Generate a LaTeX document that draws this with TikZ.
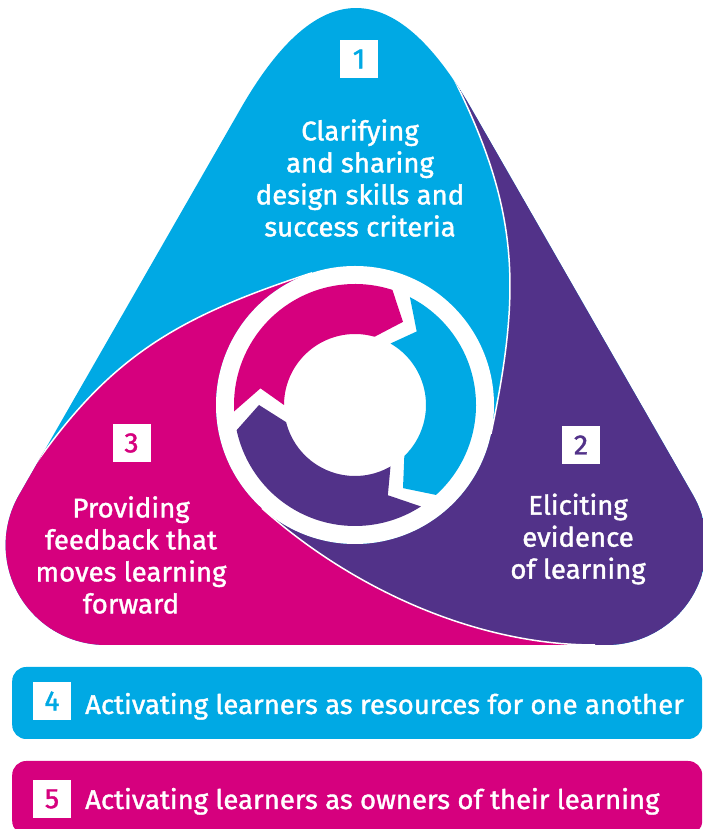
\documentclass[tikz,border=0pt]{standalone}
\usepackage{fontspec}
\setmainfont{Fira Sans}[FakeStretch=1.02, FakeBold=1.4]
\usetikzlibrary{calc}
\definecolor{lblue}{RGB}{0,169,228}
\definecolor{lpurple}{RGB}{82,50,137}
\definecolor{lpink}{RGB}{214,0,126}
\begin{document}
\begin{tikzpicture}[x=1pt,y=1pt,
  numbox/.style={fill=white, minimum size=38pt, inner sep=0pt, font=\fontsize{28}{28}\selectfont},
  lobetext/.style={text=white, align=center, font=\fontsize{27}{32}\selectfont, inner sep=0pt},
  bartext/.style={text=white, anchor=base west, font=\fontsize{27}{30}\selectfont, inner sep=0pt},
  barbox/.style={rounded corners=14pt, minimum width=690pt, anchor=west, inner sep=0pt},
  sep/.style={draw=white, line width=1.5pt}]
\useasboundingbox (0,0) rectangle (702,829);
\coordinate (O) at (355,424);
% outer rounded triangle
\fill[lblue] (241,721) .. controls (317.7,854.3) and (394.3,854.3) .. (471,721) -- (693,334)
  arc[start angle=30,end angle=-90,radius=100] -- (105.6,184)
  arc[start angle=-90,end angle=-210,radius=100] -- cycle;
\begin{scope}
\clip (241,721) .. controls (317.7,854.3) and (394.3,854.3) .. (471,721) -- (693,334)
  arc[start angle=30,end angle=-90,radius=100] -- (105.6,184)
  arc[start angle=-90,end angle=-210,radius=100] -- cycle;
% purple lobe
\fill[lpurple] (452,754) .. controls (519,621) and (522,542) .. ($(O)+(-12:139)$)
  arc[start angle=-12,end angle=-132,radius=139]
  .. controls (351,241) and (475,184) .. (595,184)
  -- (595,150) -- (800,150) -- (800,800) -- (470,800) -- cycle;
% pink lobe
\fill[lpink] (20.7,343) .. controls (102.4,467.5) and (169.3,509.6) .. ($(O)+(108:139)$)
  arc[start angle=108,end angle=228,radius=139]
  .. controls (351,241) and (475,184) .. (595,184)
  -- (595,100) -- (-100,100) -- (-100,330) -- cycle;
% separators
\draw[sep] (452,754) .. controls (519,621) and (522,542) .. ($(O)+(-12:139)$);
\draw[sep] ($(O)+(-132:139)$) .. controls (351,241) and (475,184) .. (595,184);
\draw[sep] (20.7,343) .. controls (102.4,467.5) and (169.3,509.6) .. ($(O)+(108:139)$);
\end{scope}
% central ring
\fill[white] (O) circle[radius=139];
\begin{scope}[shift={(O)}]
\foreach \col/\rot in {lpink/0, lblue/-120, lpurple/-240} {
  \fill[\col, rotate=\rot] (183:121) arc[start angle=183,end angle=72,radius=121]
    -- (60:96) -- (74:71) arc[start angle=74,end angle=180,radius=71] -- (170:96) -- cycle;
}
\end{scope}
% lobe labels
\node[numbox, text=lblue] (n1) at (359,770) {1};
\node[lobetext] (t1) at (360,651) {Clarifying\\and sharing\\design skills and\\success criteria};
\node[numbox, text=lpurple] (n2) at (581,384) {2};
\node[lobetext] (t2) at (578,290) {Eliciting\\evidence\\of learning};
\node[numbox, text=lpink] (n3) at (131.5,386) {3};
\node[lobetext] (t3) at (131,274) {Providing\\feedback that\\moves learning\\forward};
% bars
\node[barbox, fill=lblue, minimum height=72pt] (b4) at (12,126) {};
\node[numbox, text=lblue] (n4) at (52,128) {4};
\node[bartext] (t4) at (85,115) {Activating learners as resources for one another};
\node[barbox, fill=lpink, minimum height=74pt] (b5) at (12,31) {};
\node[numbox, text=lpink] (n5) at (52,30) {5};
\node[bartext] (t5) at (85,20) {Activating learners as owners of their learning};
\end{tikzpicture}
\end{document}
